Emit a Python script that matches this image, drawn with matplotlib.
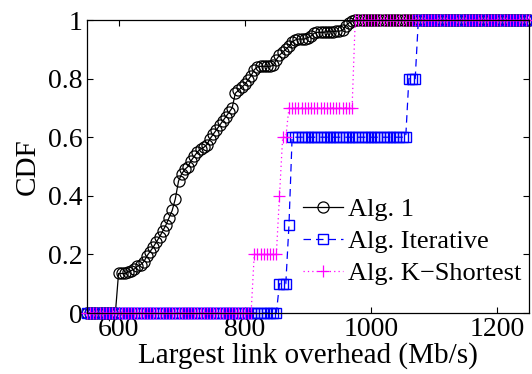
import matplotlib
matplotlib.use("Agg")
import matplotlib.pyplot as plt
import numpy as np

plt.rcParams["font.family"] = ["Liberation Serif", "DejaVu Serif"]

# x samples (Mb/s) where the CDFs were evaluated
overhead = np.arange(550, 1255, 5)

# Alg. 1: CDF values for 600..975 Mb/s
alg1_ramp = [0.135, 0.135, 0.135, 0.14, 0.145, 0.15, 0.16, 0.165, 0.175, 0.195,
             0.21, 0.225, 0.243, 0.26, 0.28, 0.30, 0.325, 0.35, 0.39, 0.45,
             0.475, 0.49, 0.50, 0.52, 0.535, 0.55, 0.56, 0.565, 0.575, 0.595,
             0.61, 0.625, 0.64, 0.655, 0.67, 0.685, 0.70, 0.75, 0.76, 0.77,
             0.78, 0.795, 0.81, 0.83, 0.84, 0.842, 0.842, 0.842, 0.842, 0.845,
             0.865, 0.88, 0.89, 0.90, 0.91, 0.925, 0.932, 0.935, 0.935, 0.935,
             0.94, 0.945, 0.955, 0.958, 0.958, 0.958, 0.96, 0.96, 0.96, 0.962,
             0.962, 0.965, 0.98, 0.99, 0.995, 1.0]
alg1_start = 600

# step CDFs: overhead where each level is reached, and the level
iter_steps = [855, 870, 875, 1060, 1075]
iter_cdf = [0.1, 0.3, 0.6, 0.8, 1.0]
kshort_steps = [815, 855, 860, 870, 975]
kshort_cdf = [0.2, 0.4, 0.6, 0.7, 1.0]


def step_cdf(x, steps, levels):
    idx = np.searchsorted(steps, x, side="right")
    return np.concatenate([[0.0], levels])[idx]


n_before = int(np.sum(overhead < alg1_start))
n_after = len(overhead) - n_before - len(alg1_ramp)
alg1 = np.array([0.0] * n_before + alg1_ramp + [1.0] * n_after)
iterative = step_cdf(overhead, iter_steps, iter_cdf)
kshort = step_cdf(overhead, kshort_steps, kshort_cdf)

fig = plt.figure(figsize=(5.32, 3.74), dpi=100)
ax = fig.add_axes([0.1635, 0.163, 0.8305, 0.7835])

ax.plot(overhead, alg1, color="black", linestyle="-", linewidth=0.9,
        marker="o", markersize=8, markerfacecolor="none",
        markeredgewidth=0.9, label="Alg. 1", clip_on=False)
ax.plot(overhead, iterative, color="#0000ff", linestyle=(0, (6, 4)), linewidth=0.9,
        marker="s", markersize=6.5, markerfacecolor="none",
        markeredgewidth=1.0, label="Alg. Iterative", clip_on=False)
ax.plot(overhead, kshort, color="#ff00ff", linestyle=(0, (1, 2.5)), linewidth=0.9,
        marker="+", markersize=9, markeredgewidth=0.9,
        label="Alg. K\u2212Shortest", clip_on=False)

ax.set_xlim(550, 1250)
ax.set_ylim(0, 1)
ax.set_xticks([600, 800, 1000, 1200])
ax.set_yticks([0, 0.2, 0.4, 0.6, 0.8, 1])
ax.set_yticklabels(["0", "0.2", "0.4", "0.6", "0.8", "1"])
ax.tick_params(direction="in", length=4, width=0.8, labelsize=20,
               top=True, right=True, pad=3)
for s in ax.spines.values():
    s.set_linewidth(0.9)

ax.set_xlabel("Largest link overhead (Mb/s)", fontsize=21, labelpad=0)
ax.set_ylabel("CDF", fontsize=21, labelpad=5)

ax.legend(loc="center left", bbox_to_anchor=(0.489, 0.245), frameon=False,
          fontsize=19, handlelength=1.5, handletextpad=0.2,
          labelspacing=0.33, borderpad=0, borderaxespad=0)

fig.savefig("out.png", dpi=100)
